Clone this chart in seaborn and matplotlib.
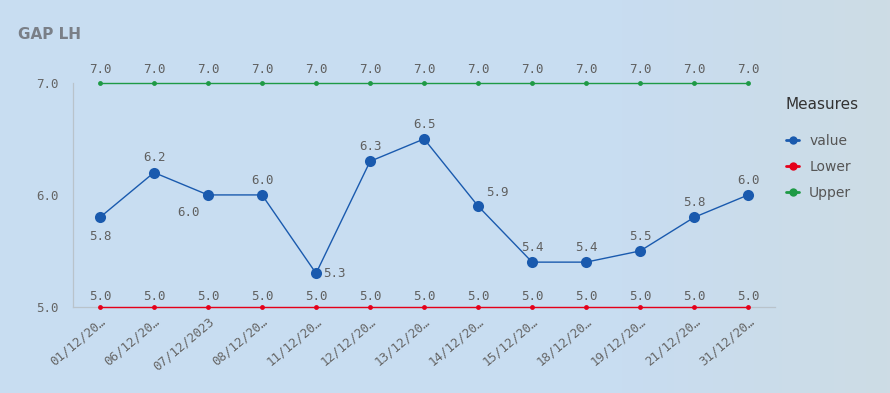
import pandas as pd
import numpy as np
import seaborn as sns
import matplotlib.pyplot as plt
from matplotlib.colors import LinearSegmentedColormap

dates = ['01/12/20…', '06/12/20…', '07/12/2023', '08/12/20…', '11/12/20…', '12/12/20…',
         '13/12/20…', '14/12/20…', '15/12/20…', '18/12/20…', '19/12/20…', '21/12/20…', '31/12/20…']
value = [5.8, 6.2, 6.0, 6.0, 5.3, 6.3, 6.5, 5.9, 5.4, 5.4, 5.5, 5.8, 6.0]
lower = [5.0] * 13
upper = [7.0] * 13

bg = '#c8ddf1'
sns.set_style('white')
plt.rcParams['font.family'] = ['DejaVu Sans']

fig = plt.figure(figsize=(8.9, 3.93), dpi=100)
fig.patch.set_facecolor(bg)

# soft horizontal background gradient (blue -> greyish on the right)
bgax = fig.add_axes([0, 0, 1, 1], zorder=-10)
cmap = LinearSegmentedColormap.from_list('bg', [(0, bg), (0.7, bg), (1, '#cddce5')])
bgax.imshow(np.linspace(0, 1, 256)[None, :], aspect='auto', cmap=cmap, extent=[0, 1, 0, 1])
bgax.axis('off')

ax = fig.add_axes([0.082, 0.219, 0.789, 0.570])
ax.patch.set_alpha(0)

x = np.arange(len(dates))
sns.lineplot(x=x, y=upper, ax=ax, color='#1e9a45', lw=1, marker='o', markersize=3.5,
             markeredgewidth=0, label='Upper', clip_on=False, zorder=3)
sns.lineplot(x=x, y=lower, ax=ax, color='#e5001a', lw=1, marker='o', markersize=3.5,
             markeredgewidth=0, label='Lower', clip_on=False, zorder=3)
sns.lineplot(x=x, y=value, ax=ax, color='#1a5aae', lw=1, marker='o', markersize=8,
             markeredgewidth=0, label='value', clip_on=False, zorder=4)

mono = 'DejaVu Sans Mono'
lab = '#606060'
for i in x:
    ax.annotate(f'{upper[i]:.1f}', (i, upper[i]), xytext=(0, 5), textcoords='offset points',
                ha='center', va='bottom', fontsize=9, family=mono, color=lab)
    ax.annotate(f'{lower[i]:.1f}', (i, lower[i]), xytext=(0, 3), textcoords='offset points',
                ha='center', va='bottom', fontsize=9, family=mono, color=lab)

# label placement for the value series
offs = {0: (0, -9, 'center', 'top'), 2: (-6, -8, 'right', 'top'), 4: (5, 0, 'left', 'center'),
        7: (6, 5, 'left', 'bottom')}
for i in x:
    dx, dy, ha, va = offs.get(i, (0, 6, 'center', 'bottom'))
    ax.annotate(f'{value[i]:.1f}', (i, value[i]), xytext=(dx, dy), textcoords='offset points',
                ha=ha, va=va, fontsize=9, family=mono, color=lab)

ax.set_xlim(-0.5, len(dates) - 0.5)
ax.set_ylim(5.0, 7.0)
ax.set_yticks([5.0, 6.0, 7.0])
ax.set_yticklabels(['5.0', '6.0', '7.0'], family=mono, fontsize=9, color='#666666')
ax.set_xticks(x)
ax.set_xticklabels(dates, rotation=40, ha='right', rotation_mode='anchor',
                   family=mono, fontsize=9, color='#666666')
ax.tick_params(axis='y', length=6, width=0.8, color='#b9c3cb', pad=4)
ax.tick_params(axis='x', length=0, pad=6)
sns.despine(ax=ax, top=True, right=True)
for s in ['left', 'bottom']:
    ax.spines[s].set_color('#b9c3cb')
    ax.spines[s].set_linewidth(0.9)

h, l = ax.get_legend_handles_labels()
leg = ax.legend(h[::-1], l[::-1], title='Measures', loc='upper left', bbox_to_anchor=(0.997, 0.995),
                frameon=False, fontsize=10, handlelength=1.0, handletextpad=0.7, labelspacing=0.86,
                alignment='left', labelcolor='#555555')
leg.get_title().set_fontsize(11)
leg.get_title().set_color('#333333')
leg._legend_box.sep = 16
for lh in leg.legend_handles:
    lh.set_markersize(6)
    lh.set_linewidth(2)

fig.text(0.020, 0.900, 'GAP LH', fontsize=11, fontweight='bold', color='#7a7f87')

fig.savefig('out.png', dpi=100)
